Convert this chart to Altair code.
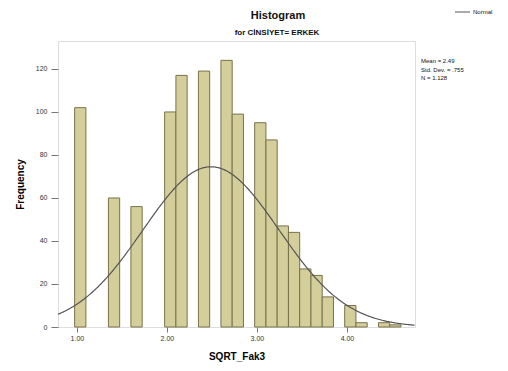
import altair as alt
import pandas as pd

# Histogram bins (lower edges) and their counts
bin_lo = [0.975, 1.350, 1.600, 1.975, 2.100, 2.350, 2.600, 2.725, 2.975, 3.100,
          3.225, 3.350, 3.475, 3.600, 3.725, 3.975, 4.100, 4.350, 4.475]
counts = [102, 60, 56, 100, 117, 119, 124, 99, 95, 87,
          47, 44, 27, 24, 14, 10, 2, 2, 1]
bin_width = 0.125

mean_v = 2.49
sd_v = 0.755
n_v = 1128

x_ticks = [1, 2, 3, 4]
y_ticks = [0, 20, 40, 60, 80, 100, 120]

stats_lines = ["Mean = 2.49", "Std. Dev. = .755", "N = 1.128"]

FONT = "Liberation Sans"

df = pd.DataFrame({"lo": bin_lo, "count": counts})
df["hi"] = df["lo"] + bin_width

xscale = alt.Scale(domain=[0.79, 4.756], nice=False, zero=False)
yscale = alt.Scale(domain=[0, 133], nice=False)

bars = alt.Chart(df).mark_bar(
    fill="#D4CF9A", stroke="#77724A", strokeWidth=1
).encode(
    x=alt.X("lo:Q", scale=xscale,
            axis=alt.Axis(values=x_ticks, format=".2f", title="SQRT_Fak3",
                          labelFontSize=7, tickSize=5, tickColor="#777",
                          labelColor="#333", titleFontSize=10,
                          titleFontWeight="bold", titlePadding=10,
                          domain=False, grid=False, labelFont=FONT,
                          titleFont=FONT)),
    x2="hi:Q",
    y=alt.Y("count:Q", scale=yscale,
            axis=alt.Axis(values=y_ticks, title="Frequency",
                          labelFontSize=7, tickSize=7, tickColor="#777",
                          labelColor="#333", titleFontSize=10,
                          titleFontWeight="bold", titlePadding=10,
                          labelPadding=4,
                          domain=False, grid=False, labelFont=FONT,
                          titleFont=FONT)),
    y2=alt.datum(0),
)

curve = alt.Chart(alt.sequence(0.79, 4.756, 0.01, as_="x")).transform_calculate(
    y=f"{n_v}*{bin_width}/({sd_v}*sqrt(2*PI))*exp(-0.5*pow((datum.x-{mean_v})/{sd_v},2))"
).mark_line(color="#555555", strokeWidth=1.2).encode(
    x=alt.X("x:Q", scale=xscale),
    y=alt.Y("y:Q", scale=yscale),
)

one = pd.DataFrame({"a": [0]})

def label(text, x, y, size, weight="normal", align="center"):
    return alt.Chart(one).mark_text(
        text=text, fontSize=size, fontWeight=weight, align=align,
        baseline="middle", font=FONT, color="#111"
    ).encode(x=alt.value(x), y=alt.value(y))

title = label("Histogram", 220, -25, 11, "bold")
subtitle = label("for CİNSİYET= ERKEK", 219, -8, 8, "bold")
legend_line = alt.Chart(one).mark_rule(color="#555", strokeWidth=1).encode(
    x=alt.value(397), x2=alt.value(412), y=alt.value(-29))
legend_text = label("Normal", 415, -29, 6, align="left")
stats = [label(t, 363, 20 + i * 8.5, 6, align="left") for i, t in enumerate(stats_lines)]

chart = alt.layer(bars, curve, title, subtitle, legend_line, legend_text, *stats).properties(
    width=357, height=286,
    autosize=alt.AutoSizeParams(type="none"),
    padding={"left": 50, "top": 33, "right": 85, "bottom": 36},
).configure_view(
    fill="#F0F0F0", stroke="#888888", strokeWidth=1
).configure(background="white")

chart.save("out.html", embed_options={"renderer": "svg", "actions": False})
